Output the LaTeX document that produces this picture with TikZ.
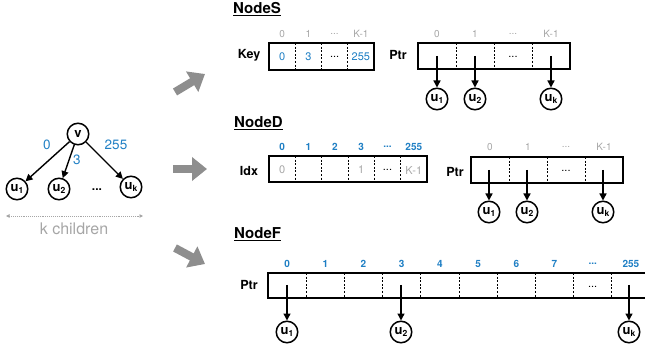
\documentclass[tikz,border=0pt]{standalone}
\usepackage{fontspec}
\setmainfont{TeX Gyre Heros}
\usetikzlibrary{arrows.meta}
\definecolor{ablue}{HTML}{1F7FC4}
\definecolor{agray}{HTML}{A6A6A6}
\definecolor{fatgray}{HTML}{8E8E8E}
\newcommand{\usub}[1]{u\raisebox{-0.3ex}{\fontsize{8.5}{8.5}\selectfont #1}}
\newcommand{\ddd}{...}
\begin{document}
\begin{tikzpicture}[x=1pt,y=-1pt,
  circ/.style={circle,draw,line width=1.5pt,minimum size=21.5pt,inner sep=0pt,font=\bfseries\fontsize{13}{13}\selectfont},
  boxline/.style={draw,line width=1.8pt},
  sepline/.style={dash pattern=on 2pt off 1.6pt,line width=0.9pt},
  idx/.style={inner sep=0pt,font=\fontsize{10}{10}\selectfont,text=agray},
  idxb/.style={inner sep=0pt,font=\bfseries\fontsize{10}{10}\selectfont,text=ablue},
  val/.style={inner sep=0pt,font=\fontsize{11}{11}\selectfont},
  lab/.style={inner sep=0pt,font=\bfseries\fontsize{12.5}{12.5}\selectfont},
  ttl/.style={inner sep=0pt,anchor=west,font=\bfseries\fontsize{15}{15}\selectfont},
  ptrarrow/.style={line width=1.4pt,-{Triangle[length=7pt,width=7pt]}},
  fat/.style={line width=8pt,fatgray,-{Triangle[length=15pt,width=23pt]}},
  cellc/.style={inner sep=0pt,minimum size=1pt}
]
\useasboundingbox (0,0) rectangle (645,347);

% ---------- tree ----------
\node[circ] (v) at (78,134) {v};
\node[circ] (t1) at (17,189) {\usub{1}};
\node[circ] (t2) at (59,189) {\usub{2}};
\node[circ] (tk) at (131,187) {\usub{k}};
\node[val,font=\bfseries\fontsize{12}{12}\selectfont] (tdots) at (97,190) {\ddd};
\draw[ptrarrow] (v) -- (t1);
\draw[ptrarrow] (v) -- (t2);
\draw[ptrarrow] (v) -- (tk);
\node[inner sep=0pt,text=ablue,font=\fontsize{13.5}{13.5}\selectfont] (l0) at (47,145) {0};
\node[inner sep=0pt,text=ablue,font=\fontsize{13.5}{13.5}\selectfont] (l3) at (77,160) {3};
\node[inner sep=0pt,text=ablue,font=\fontsize{13.5}{13.5}\selectfont] (l255) at (116,145) {255};
\coordinate (kl) at (6,216);
\coordinate (kr) at (143,216);
\draw[agray,densely dotted,line width=0.9pt,{Triangle[length=3.5pt,width=3.5pt]}-{Triangle[length=3.5pt,width=3.5pt]}] (kl) -- (kr);
\node[inner sep=0pt,text=agray,font=\fontsize{16}{16}\selectfont] (kc) at (74,229) {k children};

% ---------- fat arrows ----------
\coordinate (fa1) at (175,92); \coordinate (fb1) at (205,74);
\coordinate (fa2) at (173,169); \coordinate (fb2) at (207,169);
\coordinate (fa3) at (175,248); \coordinate (fb3) at (205,264);
\draw[fat] (fa1) -- (fb1);
\draw[fat] (fa2) -- (fb2);
\draw[fat] (fa3) -- (fb3);

% ---------- NodeS ----------
\node[ttl] (tS) at (233,9) {\underline{NodeS}};
\node[lab] (keyl) at (249,55) {Key};
\draw[boxline] (269,43) rectangle (374,70);
\foreach \x in {295.25,321.5,347.75} \draw[sepline] (\x,43) -- (\x,70);
\foreach \i/\x/\t in {0/282.1/0,1/308.4/1,2/334.6/\ddd,3/360.9/K-1}
  \node[idx] (si\i) at (\x,34) {\t};
\node[val,text=ablue] (sk0) at (282.1,57) {0};
\node[val,text=ablue] (sk1) at (308.4,57) {3};
\node[val] (sk2) at (334.6,57) {\ddd};
\node[val,text=ablue] (sk3) at (360.9,57) {255};

\node[lab] (ptrS) at (398,55) {Ptr};
\draw[boxline] (418,43) rectangle (570,69);
\foreach \x in {456,494,532} \draw[sepline] (\x,43) -- (\x,69);
\foreach \i/\x/\t in {0/437/0,1/475/1,2/513/\ddd,3/551/K-1}
  \node[idx] (pi\i) at (\x,34) {\t};
\node[cellc] (sp0) at (437,56) {};
\node[cellc] (sp1) at (475,56) {};
\node[val] (sp2) at (513,57) {\ddd};
\node[cellc] (sp3) at (551,56) {};
\node[circ] (su1) at (437,99) {\usub{1}};
\node[circ] (su2) at (475,99) {\usub{2}};
\node[circ] (suk) at (551,99) {\usub{k}};
\draw[ptrarrow] (sp0.center) -- (su1);
\draw[ptrarrow] (sp1.center) -- (su2);
\draw[ptrarrow] (sp3.center) -- (suk);

% ---------- NodeD ----------
\node[ttl] (tD) at (234,123) {\underline{NodeD}};
\node[lab] (idxl) at (249,171) {Idx};
\draw[boxline] (269,156) rectangle (427,182);
\foreach \x in {295.33,321.67,348,374.33,400.67} \draw[sepline] (\x,156) -- (\x,182);
\foreach \i/\x/\t in {0/282.2/0,1/308.5/1,2/334.8/2,3/361.2/3,4/387.5/\ddd,5/413.8/255}
  \node[idxb] (di\i) at (\x,147) {\t};
\node[val,text=agray] (dv0) at (282.2,170) {0};
\node[val,text=agray] (dv3) at (361.2,170) {1};
\node[val] (dv4) at (387.5,170) {\ddd};
\node[val,text=agray] (dv5) at (413.8,170) {K-1};

\node[lab] (ptrD) at (455,172) {Ptr};
\draw[boxline] (471,157) rectangle (623,183);
\foreach \x in {509,547,585} \draw[sepline] (\x,157) -- (\x,183);
\foreach \i/\x/\t in {0/490/0,1/528/1,2/566/\ddd,3/604/K-1}
  \node[idx] (dpi\i) at (\x,147) {\t};
\node[cellc] (dp0) at (489,170) {};
\node[cellc] (dp1) at (527,170) {};
\node[val] (dp2) at (566,171) {\ddd};
\node[cellc] (dp3) at (603,170) {};
\node[circ] (du1) at (489,212) {\usub{1}};
\node[circ] (du2) at (527,212) {\usub{2}};
\node[circ] (duk) at (603,212) {\usub{k}};
\draw[ptrarrow] (dp0.center) -- (du1);
\draw[ptrarrow] (dp1.center) -- (du2);
\draw[ptrarrow] (dp3.center) -- (duk);

% ---------- NodeF ----------
\node[ttl] (tF) at (234,234) {\underline{NodeF}};
\node[lab] (ptrF) at (249,285) {Ptr};
\draw[boxline] (268,273) rectangle (652,298);
\foreach \x in {306.2,344.4,382.6,420.8,459,497.2,535.4,573.6,611.8} \draw[sepline] (\x,273) -- (\x,298);
\foreach \i/\x/\t in {0/287.1/0,1/325.3/1,2/363.5/2,3/401.7/3,4/439.9/4,5/478.1/5,6/516.3/6,7/554.5/7,8/592.7/\ddd,9/630.9/255}
  \node[idxb] (fi\i) at (\x,264) {\t};
\node[cellc] (fp0) at (287,285) {};
\node[cellc] (fp3) at (401,285) {};
\node[val] (fp8) at (592.7,287) {\ddd};
\node[cellc] (fp9) at (629,285) {};
\node[circ] (fu1) at (287,332) {\usub{1}};
\node[circ] (fu2) at (401,332) {\usub{2}};
\node[circ] (fuk) at (629,332) {\usub{k}};
\draw[ptrarrow] (fp0.center) -- (fu1);
\draw[ptrarrow] (fp3.center) -- (fu2);
\draw[ptrarrow] (fp9.center) -- (fuk);
\end{tikzpicture}
\end{document}
